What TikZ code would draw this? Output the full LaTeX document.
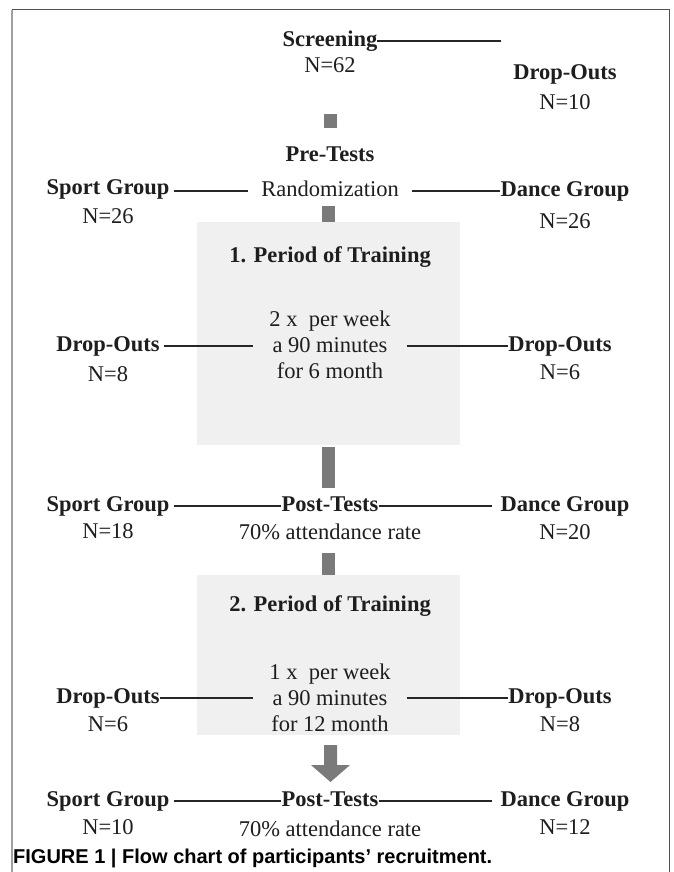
\documentclass[tikz,border=0pt]{standalone}
\usepackage{fontspec}
\setmainfont{Liberation Serif}
\newfontfamily\capfont{Liberation Sans}
\definecolor{txt}{HTML}{1E1E1E}
\definecolor{barc}{HTML}{7A7A7A}
\definecolor{boxc}{HTML}{F0F0F0}
\definecolor{framec}{HTML}{505050}
\definecolor{framel}{HTML}{A0A0A0}
\tikzset{
  base/.style={inner sep=0pt, text=txt, font=\fontsize{22.5}{27}\selectfont, text height=15pt, text depth=4pt},
  lab/.style={base, font=\fontsize{22.5}{27}\selectfont\bfseries},
  num/.style={base},
  multi/.style={inner sep=0pt, text=txt, align=center, font=\fontsize{22.5}{26}\selectfont},
  conn/.style={draw=black!85, line width=1.1pt},
  bar/.style={fill=barc, draw=none},
  panel/.style={fill=boxc, draw=none, minimum width=263pt, minimum height=#1, inner sep=0pt},
}
\begin{document}
\begin{tikzpicture}[x=1pt,y=-1pt]
\useasboundingbox (0,0) rectangle (673,872);
\fill[white] (0,0) rectangle (673,872);
% frame
\draw[framel, line width=2pt] (12,10) -- (12,872);
\draw[framec, line width=1pt] (12,10) -- (669,10) -- (669,872);

% panels
\node[panel=223pt] (box1) at (328.5,333.5) {};
\node[panel=160pt] (box2) at (328.5,655) {};

% row 1
\node[lab] (scr) at (330,41) {Screening};
\node[num] (scrn) at (330,67) {N=62};
\node[lab] (do0) at (565,74) {Drop-Outs};
\node[num] (do0n) at (565,104) {N=10};
\draw[conn] (scr.east) -- ([xshift=-12pt]scr.east -| do0.west);

\node[bar, minimum width=13pt, minimum height=14pt, inner sep=0pt] (sq) at (330.5,121) {};
\node[lab] (pre) at (330,156) {Pre-Tests};

% row 2
\node[lab] (sg1) at (108,189) {Sport Group};
\node[num] (sg1n) at (108,218) {N=26};
\node[num] (rand) at (330,191) {Randomization};
\node[lab] (dg1) at (565,191) {Dance Group};
\node[num] (dg1n) at (565,223) {N=26};
\draw[conn] ([xshift=4pt]sg1.east |- rand.center) -- ([xshift=-13pt]rand.west);
\draw[conn] ([xshift=13pt]rand.east) -- (dg1.west |- rand.center);
\node[bar, minimum width=13pt, minimum height=16pt, inner sep=0pt, anchor=south] (bar1) at (box1.north) {};

% panel 1
\node[lab] (per1) at (330,257) {1. Period of Training};
\node[multi] (b1txt) at (330,345) {2 x \ per week\\a 90 minutes\\for 6 month};
\node[lab] (do1l) at (108,346) {Drop-Outs};
\node[num] (do1ln) at (108,376) {N=8};
\node[lab] (do1r) at (560,346) {Drop-Outs};
\node[num] (do1rn) at (560,374) {N=6};
\draw[conn] ([xshift=4pt]do1l.east) -- ([xshift=-16pt]b1txt.west |- do1l.east);
\draw[conn] ([xshift=16pt]b1txt.east |- do1r.west) -- (do1r.west);

\node[bar, minimum width=13pt, minimum height=41pt, inner sep=0pt, anchor=north] (bar2) at ([yshift=-2pt]box1.south) {};

% row 3
\node[lab] (sg2) at (108,506) {Sport Group};
\node[num] (sg2n) at (108,533) {N=18};
\node[lab] (post1) at (330,506) {Post-Tests};
\node[num] (post1n) at (330,534) {70\% attendance rate};
\node[lab] (dg2) at (565,506) {Dance Group};
\node[num] (dg2n) at (565,534) {N=20};
\draw[conn] ([xshift=4pt]sg2.east) -- (post1.west);
\draw[conn] (post1.east) -- ([xshift=-8pt]dg2.west);

\node[bar, minimum width=13pt, minimum height=22pt, inner sep=0pt, anchor=south] (bar3) at (box2.north) {};

% panel 2
\node[lab] (per2) at (330,606) {2. Period of Training};
\node[multi] (b2txt) at (330,698) {1 x \ per week\\a 90 minutes\\for 12 month};
\node[lab] (do2l) at (108,698) {Drop-Outs};
\node[num] (do2ln) at (108,726) {N=6};
\node[lab] (do2r) at (560,698) {Drop-Outs};
\node[num] (do2rn) at (560,726) {N=8};
\draw[conn] (do2l.east) -- ([xshift=-16pt]b2txt.west |- do2l.east);
\draw[conn] ([xshift=16pt]b2txt.east |- do2r.west) -- (do2r.west);

% arrow
\fill[barc] (324,745) -- (337,745) -- (337,765) -- (350,765) -- (330.5,782) -- (311,765) -- (324,765) -- cycle;

% row 5
\node[lab] (sg3) at (108,801) {Sport Group};
\node[num] (sg3n) at (108,829) {N=10};
\node[lab] (post2) at (330,801) {Post-Tests};
\node[num] (post2n) at (330,831) {70\% attendance rate};
\node[lab] (dg3) at (565,801) {Dance Group};
\node[num] (dg3n) at (565,829) {N=12};
\draw[conn] ([xshift=4pt]sg3.east) -- (post2.west);
\draw[conn] (post2.east) -- ([xshift=-8pt]dg3.west);

% caption
\node[anchor=west, inner sep=0pt, font=\capfont\bfseries\fontsize{20}{23}\selectfont] (cap) at (13,858) {FIGURE 1 | Flow chart of participants’ recruitment.};
\end{tikzpicture}
\end{document}
